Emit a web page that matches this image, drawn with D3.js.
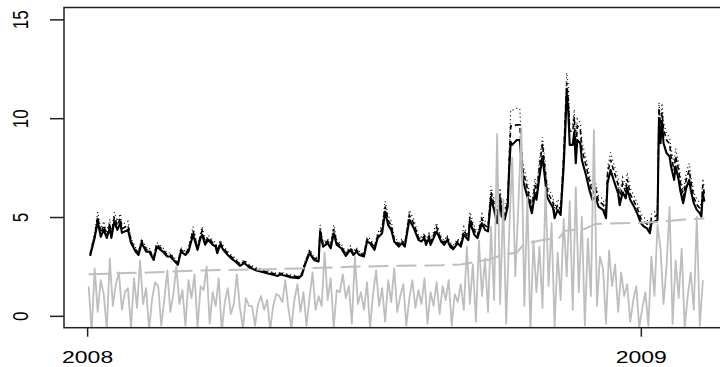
<!DOCTYPE html>
<html>
<head>
<meta charset="utf-8">
<script src="https://cdn.jsdelivr.net/npm/d3@7"></script>
<style>
  html, body { margin: 0; padding: 0; background: #fff; }
  svg { display: block; }
  text { font-family: "Liberation Sans", Arial, Helvetica, sans-serif; fill: #000; }
</style>
</head>
<body>
<svg id="chart" width="720" height="367"></svg>
<script>
// Day offsets from 2008-01-01 for the volatility estimates
const days = [2,5,7,9,11,13,15,16,18,20,22,23,27,29,32,34,36,39,41,44,46,50,53,55,60,62,65,67,70,73,75,76,78,80,83,85,86,88,90,93,95,98,101,104,107,112,119,126,128,134,140,142,144,147,150,153,154,156,159,161,163,165,168,171,174,176,178,180,183,185,187,190,192,195,197,199,201,203,206,208,210,213,216,219,221,223,224,226,227,231,234,236,238,240,242,245,247,249,252,253,256,258,261,263,265,267,269,271,273,274,276,278,279,280,281,284,286,287,288,291,292,294,296,297,299,301,302,304,305,308,309,311,313,315,316,317,318,319,321,322,323,324,326,327,330,332,334,336,338,341,343,344,346,348,351,352,354,356,357,359,362,364,366,368,370,372,373,375,377,378,379,380,381,383,385,386,388,389,391,392,394,396,398,399,401,403,405,406,407,408];

// Estimated volatility (solid black)
const volSolid = [3.03,3.95,4.77,4.0,4.35,3.94,4.45,3.94,4.77,4.35,4.7,4.2,4.35,3.7,3.25,3.08,3.68,3.25,3.25,2.83,3.5,3.25,3.0,3.0,2.58,3.25,3.08,3.25,4.1,3.34,3.95,4.1,3.6,3.85,3.6,3.5,3.17,3.6,3.34,3.08,2.92,2.75,2.53,2.67,2.46,2.29,2.16,2.02,2.09,1.96,1.91,2.07,2.58,3.17,2.83,2.75,4.18,3.5,3.68,3.42,4.18,3.59,3.42,3.03,3.34,3.08,3.25,3.08,3.0,3.76,3.68,3.34,3.93,4.18,5.27,4.6,4.35,3.76,3.5,3.68,3.5,4.86,4.43,3.84,3.76,3.93,3.59,3.93,3.59,4.27,3.76,3.59,3.84,3.5,3.37,3.68,3.5,4.1,3.84,4.77,4.1,3.93,4.69,4.35,4.27,5.95,5.36,4.69,5.87,5.02,4.86,5.53,7.38,8.8,8.65,8.9,8.9,7.89,6.88,6.03,5.78,5.19,6.2,5.87,7.05,8.06,7.38,6.03,5.87,5.45,4.94,5.36,5.11,7.55,9.24,11.27,10.42,8.65,8.65,9.32,7.72,8.9,8.73,7.89,7.05,6.37,5.87,6.03,5.53,5.36,4.94,6.71,7.38,6.88,6.2,5.6,6.25,5.95,6.46,5.87,5.45,5.11,4.69,4.52,4.43,4.18,4.69,4.77,4.86,10.0,8.73,9.83,8.73,8.23,8.06,7.55,6.88,7.55,6.88,6.37,5.7,6.46,6.88,6.37,5.7,5.36,5.19,5.02,6.2,5.78];

// Alternative estimate (dashed black)
const volDashed = [3.12,4.07,5.01,4.2,4.57,4.06,4.67,4.06,5.01,4.57,4.94,4.41,4.57,3.81,3.35,3.17,3.79,3.35,3.35,2.91,3.61,3.35,3.09,3.09,2.66,3.35,3.17,3.35,4.31,3.44,4.07,4.31,3.71,3.97,3.71,3.61,3.27,3.71,3.44,3.17,3.01,2.83,2.61,2.75,2.53,2.36,2.22,2.08,2.15,2.02,1.97,2.13,2.66,3.27,2.91,2.83,4.39,3.61,3.79,3.52,4.39,3.7,3.52,3.12,3.44,3.17,3.35,3.17,3.09,3.87,3.79,3.44,4.05,4.39,5.53,4.83,4.57,3.87,3.61,3.79,3.61,5.1,4.65,3.96,3.87,4.05,3.7,4.05,3.7,4.48,3.87,3.7,3.96,3.61,3.47,3.79,3.61,4.31,3.96,5.01,4.31,4.05,4.92,4.57,4.48,6.25,5.63,4.92,6.16,5.27,5.1,5.81,7.9,9.6,9.6,9.66,9.66,8.44,7.36,6.45,6.07,5.45,6.63,6.16,7.54,8.7,7.9,6.45,6.16,5.72,5.19,5.63,5.37,8.08,9.98,11.8,11.0,9.34,9.34,10.07,8.26,9.61,9.43,8.44,7.54,6.82,6.16,6.45,5.81,5.63,5.19,7.18,7.9,7.36,6.63,5.88,6.69,6.25,6.91,6.16,5.72,5.37,4.92,4.75,4.65,4.39,4.92,5.01,5.1,10.5,9.43,10.3,9.43,8.89,8.7,8.08,7.36,8.08,7.36,6.82,5.99,6.91,7.36,6.82,5.99,5.63,5.45,5.27,6.63,6.18];

// Upper estimate (dotted black)
const volDotted = [3.21,4.19,5.25,4.4,4.79,4.18,4.9,4.18,5.25,4.79,5.17,4.62,4.79,3.92,3.45,3.26,3.9,3.45,3.45,3.0,3.71,3.45,3.18,3.18,2.73,3.45,3.26,3.45,4.51,3.54,4.19,4.51,3.82,4.08,3.82,3.71,3.36,3.82,3.54,3.26,3.1,2.92,2.68,2.83,2.61,2.43,2.29,2.14,2.22,2.08,2.02,2.19,2.73,3.36,3.0,2.92,4.6,3.71,3.9,3.63,4.6,3.81,3.63,3.21,3.54,3.26,3.45,3.26,3.18,3.99,3.9,3.54,4.17,4.6,5.8,5.06,4.79,3.99,3.71,3.9,3.71,5.35,4.87,4.07,3.99,4.17,3.81,4.17,3.81,4.7,3.99,3.81,4.07,3.71,3.57,3.9,3.71,4.51,4.07,5.25,4.51,4.17,5.16,4.79,4.7,6.55,5.9,5.16,6.46,5.52,5.35,6.08,8.27,10.4,10.4,10.5,10.5,8.84,7.71,6.75,6.36,5.71,6.94,6.46,7.9,9.03,8.27,6.75,6.46,6.0,5.43,5.9,5.62,8.46,10.35,12.3,11.67,9.69,9.69,10.44,8.65,9.97,9.78,8.84,7.9,7.13,6.46,6.75,6.08,5.9,5.43,7.52,8.27,7.71,6.94,6.16,7.0,6.55,7.24,6.46,6.0,5.62,5.16,4.97,4.87,4.6,5.16,5.25,5.35,10.8,9.78,10.75,9.78,9.22,9.03,8.46,7.71,8.46,7.71,7.13,6.27,7.24,7.71,7.13,6.27,5.9,5.71,5.52,6.94,6.47];

// Daily returns measure (solid gray): every second calendar day from day 1
const returnsStartDay = 1;
const returnsStepDays = 2;
const absReturns = [
  1.5,-0.8,2.4,0.2,1.8,1.1,-0.7,2.9,0.5,1.6,
  2.2,0.3,1.2,1.4,-0.6,1.9,0.4,2.8,0.6,1.4,
  -0.7,0.9,1.7,1.5,-0.5,0.8,2.3,0.2,1.1,2.5,
  0.6,1.3,-0.5,1.8,0.9,2.1,-0.6,1.5,1.3,2.5,
  -0.4,1.2,0.5,1.9,-0.8,0.7,1.4,0.1,0.6,2.1,
  0.4,-0.6,0.9,0.5,0.5,-0.5,0.6,1.0,0.3,0.8,
  -0.7,0.5,1.1,1.0,0.7,1.8,0.4,-0.6,0.8,1.6,
  0.2,1.2,-0.5,0.9,2.2,0.3,1.0,0.5,3.2,0.8,
  1.9,-0.6,1.3,1.2,2.1,0.9,1.5,-0.4,3.0,0.6,
  1.2,0.3,1.7,-0.6,1.1,2.3,0.5,1.4,-0.3,1.8,
  0.7,2.4,0.2,1.0,1.6,-0.5,0.9,1.8,0.4,1.3,
  0.6,1.9,-0.4,1.2,0.5,1.7,0.1,1.5,0.8,1.8,
  -0.5,1.1,0.7,1.6,0.3,3.5,0.6,2.6,-0.3,3.8,
  1.0,2.9,0.2,4.5,0.8,9.2,0.6,5.9,-0.4,4.2,
  8.0,2.0,5.5,9.5,0.5,6.0,-0.8,3.8,1.2,3.5,
  0.4,6.5,1.5,4.7,-0.6,3.2,0.8,4.9,2.0,5.8,
  0.3,6.5,1.2,5.0,-0.5,3.9,1.0,9.4,0.5,3.0,
  2.4,-0.4,3.3,1.5,2.6,0.2,2.2,1.0,1.6,-0.3,
  0.8,1.5,-0.6,0.4,1.2,-0.5,3.0,1.0,4.6,3.4,
  0.6,2.5,5.5,-0.4,2.8,0.9,3.4,-0.6,1.0,2.2,
  0.3,5.0,-0.5,1.8
];

// Long-run component (dashed gray)
const trendDays = [1,20,45,75,115,141,174,207,234,247,258,266,275,284,289,302,312,316,329,336,352,379,395,408];
const trendValues = [2.1,2.15,2.2,2.3,2.35,2.4,2.48,2.53,2.56,2.6,2.75,2.85,3.1,3.2,3.65,3.85,3.95,4.3,4.4,4.65,4.68,4.75,4.88,4.92];

const yTicks = [0, 5, 10, 15];
const xTickYears = [2008, 2009];

// ---- layout ----
const svg = d3.select("#chart");
const plot = { left: 64, right: 729, top: 7.5, bottom: 327.7 };
const DAY = 864e5;
const origin = Date.UTC(2008, 0, 1);
const toDate = d => new Date(origin + d * DAY);

// R-style 4% padding around the data range
const firstDay = days[0] - 1, lastDay = days[days.length - 1];
const pad = 0.04 * (lastDay - firstDay);
const x = d3.scaleUtc()
  .domain([toDate(firstDay - pad), toDate(lastDay + pad)])
  .range([plot.left, plot.right]);
const y = d3.scaleLinear().domain([-0.6, 15.6]).range([plot.bottom, plot.top]);

svg.append("defs").append("clipPath").attr("id", "plotClip")
  .append("rect")
  .attr("x", plot.left).attr("y", plot.top)
  .attr("width", plot.right - plot.left).attr("height", plot.bottom - plot.top);

const g = svg.append("g").attr("clip-path", "url(#plotClip)");
const line = d3.line().x(p => x(toDate(p[0]))).y(p => y(p[1]));

const zipDays = vals => vals.map((v, i) => [days[i], v]);

g.append("path").datum(zipDays(volSolid)).attr("d", line)
  .attr("fill", "none").attr("stroke", "#000").attr("stroke-width", 2.1)
  .attr("stroke-linejoin", "round");
g.append("path").datum(zipDays(volDashed)).attr("d", line)
  .attr("fill", "none").attr("stroke", "#000").attr("stroke-width", 1.6)
  .attr("stroke-dasharray", "5,3");
g.append("path").datum(zipDays(volDotted)).attr("d", line)
  .attr("fill", "none").attr("stroke", "#000").attr("stroke-width", 1.2)
  .attr("stroke-dasharray", "1,3");

const retPts = absReturns.map((v, i) => [returnsStartDay + i * returnsStepDays, v]);
g.append("path").datum(retPts).attr("d", line)
  .attr("fill", "none").attr("stroke", "#bebebe").attr("stroke-width", 1.8)
  .attr("stroke-linejoin", "round");

const trendPts = trendValues.map((v, i) => [trendDays[i], v]);
g.append("path").datum(trendPts).attr("d", line)
  .attr("fill", "none").attr("stroke", "#bebebe").attr("stroke-width", 2)
  .attr("stroke-dasharray", "20,8");

// ---- frame ----
svg.append("rect")
  .attr("x", plot.left).attr("y", plot.top)
  .attr("width", plot.right - plot.left).attr("height", plot.bottom - plot.top)
  .attr("fill", "none").attr("stroke", "#222").attr("stroke-width", 1.5);

// ---- axes ----
const stretch = 1.35;
const xAxis = svg.append("g").attr("transform", `translate(0,${plot.bottom})`)
  .call(d3.axisBottom(x)
    .tickValues(xTickYears.map(yr => new Date(Date.UTC(yr, 0, 1))))
    .tickFormat(d3.utcFormat("%Y"))
    .tickSize(9).tickPadding(0));
xAxis.select(".domain").remove();
xAxis.selectAll(".tick line").attr("stroke", "#222").attr("stroke-width", 1.5);
xAxis.selectAll(".tick text")
  .attr("y", 0).attr("dy", 0)
  .attr("transform", `translate(0,35.5) scale(${stretch},1)`)
  .style("font-size", "17px");

const yAxis = svg.append("g").attr("transform", `translate(${plot.left},0)`)
  .call(d3.axisLeft(y).tickValues(yTicks).tickSize(14).tickPadding(0));
yAxis.select(".domain").remove();
yAxis.selectAll(".tick line").attr("stroke", "#222").attr("stroke-width", 1.5);
yAxis.selectAll(".tick text")
  .attr("x", 0).attr("dy", 0)
  .attr("text-anchor", "middle")
  .attr("transform", `translate(-35.7,0) scale(${stretch},1) rotate(-90)`)
  .style("font-size", "17px");
</script>
</body>
</html>
